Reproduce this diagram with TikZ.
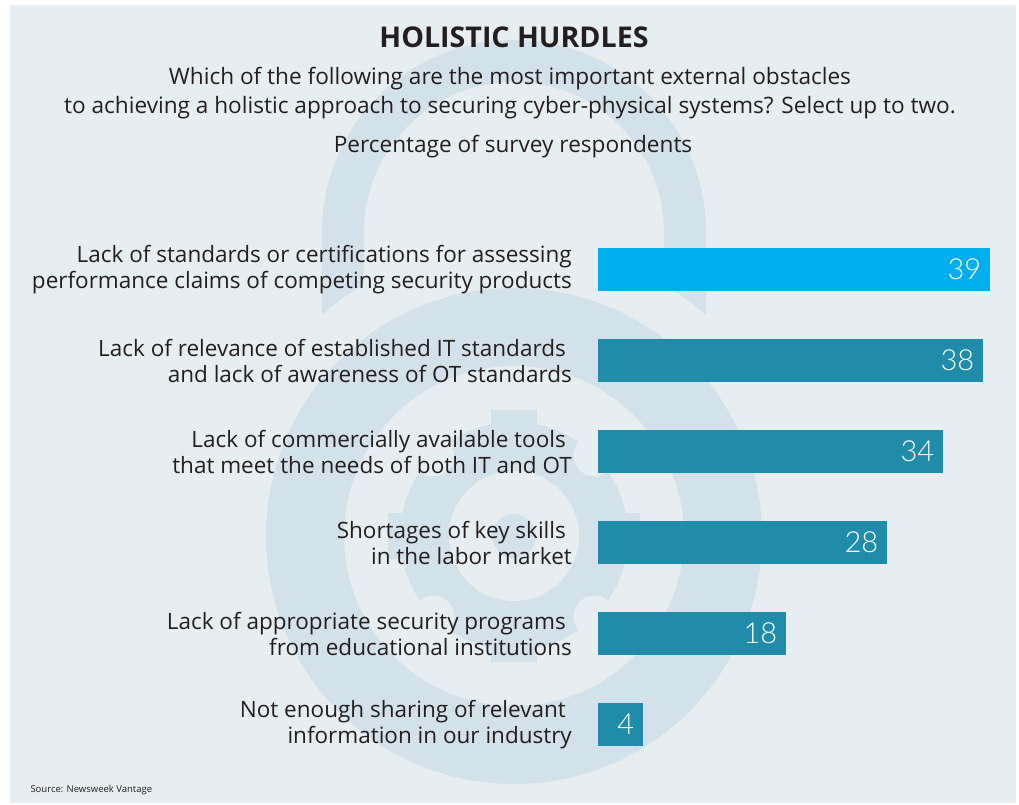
\documentclass[tikz,border=0pt]{standalone}
\usepackage{fontspec}
\setmainfont{Open Sans}
\newfontfamily\numfont{Lato Light}
\definecolor{panel}{HTML}{E6EEF2}
\definecolor{lock}{HTML}{D3E1EA}
\definecolor{brightbar}{HTML}{00AEEF}
\definecolor{tealbar}{HTML}{218CA9}
\definecolor{ink}{HTML}{231F20}
\begin{document}
\begin{tikzpicture}[x=1pt, y=-1pt,
  obstacle/.style={anchor=east, align=right, inner sep=0pt, text=ink, font=\fontsize{22.5}{26}\selectfont},
  hbar/.style={anchor=west, inner sep=0pt, minimum height=43pt, fill=tealbar},
  pct/.style={anchor=east, inner sep=0pt, xshift=-9pt, text=white, font=\numfont\fontsize{29}{29}\selectfont}]
  \useasboundingbox (0,0) rectangle (1019,805);
  % Background and padlock
  \fill[white] (0,0) rectangle (1019,805);
  \fill[panel] (10,5) rectangle (1016,803);
  \fill[lock] (322,314.7) -- (322,232) arc[start angle=180, end angle=0, radius=192pt]
    -- (706,314.7) arc[start angle=49.05, end angle=59.2, radius=293pt]
    -- (664,232) arc[start angle=0, end angle=180, radius=150pt]
    -- (364,284.3) arc[start angle=120.8, end angle=130.95, radius=293pt] -- cycle;
  \fill[lock, even odd rule] (514,536) circle[radius=248pt] circle[radius=170pt];
  \fill[lock] (514,536) circle[radius=114pt];
  \foreach \a in {0,90,180,270}
    \fill[lock, rotate around={\a:(514,536)}] (491,536) rectangle (537,410);
  \foreach \a in {45,135,225,315}
    \fill[panel] (514,536) ++(\a:114pt) circle[radius=21pt];
  \fill[panel] (514,536) circle[radius=65pt];
  \fill[lock] (514,536) circle[radius=22pt];
  % Header
  \node (title) [text=ink, font=\bfseries\fontsize{28.6}{28}\selectfont] at (514,37) {HOLISTIC HURDLES};
  \node (question) [align=center, text=ink, font=\fontsize{22.6}{29}\selectfont] at (510,93)
    {Which of the following are the most important external obstacles\\
     to achieving a holistic approach to securing cyber-physical systems? Select up to two.};
  \node (unit) [text=ink, font=\fontsize{22.6}{24}\selectfont] at (513,147) {Percentage of survey respondents};
  % Labels
  \node (lab1) [obstacle] at (572,269.5) {Lack of standards or certifications for assessing\\ performance claims of competing security products};
  \node (lab2) [obstacle] at (572,360.5) {Lack of relevance of established IT standards\hspace*{6pt}\\ and lack of awareness of OT standards};
  \node (lab3) [obstacle] at (572,451.5) {Lack of commercially available tools\hspace*{6pt}\\ that meet the needs of both IT and OT};
  \node (lab4) [obstacle] at (572,542.5) {Shortages of key skills\hspace*{6pt}\\ in the labor market};
  \node (lab5) [obstacle] at (572,633.5) {Lack of appropriate security programs\hspace*{6pt}\\ from educational institutions};
  \node (lab6) [obstacle] at (572,724.5) {Not enough sharing of relevant\hspace*{6pt}\\ information in our industry};
  % Bars
  \node (bar1) [hbar, fill=brightbar, minimum width=392pt] at (598,269.5) {};
  \node (bar2) [hbar, minimum width=385pt] at (598,360.5) {};
  \node (bar3) [hbar, minimum width=345pt] at (598,451.5) {};
  \node (bar4) [hbar, minimum width=289pt] at (598,542.5) {};
  \node (bar5) [hbar, minimum width=188pt] at (598,633.5) {};
  \node (bar6) [hbar, minimum width=45pt] at (598,724.5) {};
  % Values
  \node (val1) [pct] at (bar1.east) {39};
  \node (val2) [pct] at (bar2.east) {38};
  \node (val3) [pct] at (bar3.east) {34};
  \node (val4) [pct] at (bar4.east) {28};
  \node (val5) [pct] at (bar5.east) {18};
  \node (val6) [pct] at (bar6.east) {4};
  % Footer
  \node (source) [anchor=west, text=ink, font=\fontsize{9.5}{11}\selectfont] at (27,790) {Source: Newsweek Vantage};
\end{tikzpicture}
\end{document}
